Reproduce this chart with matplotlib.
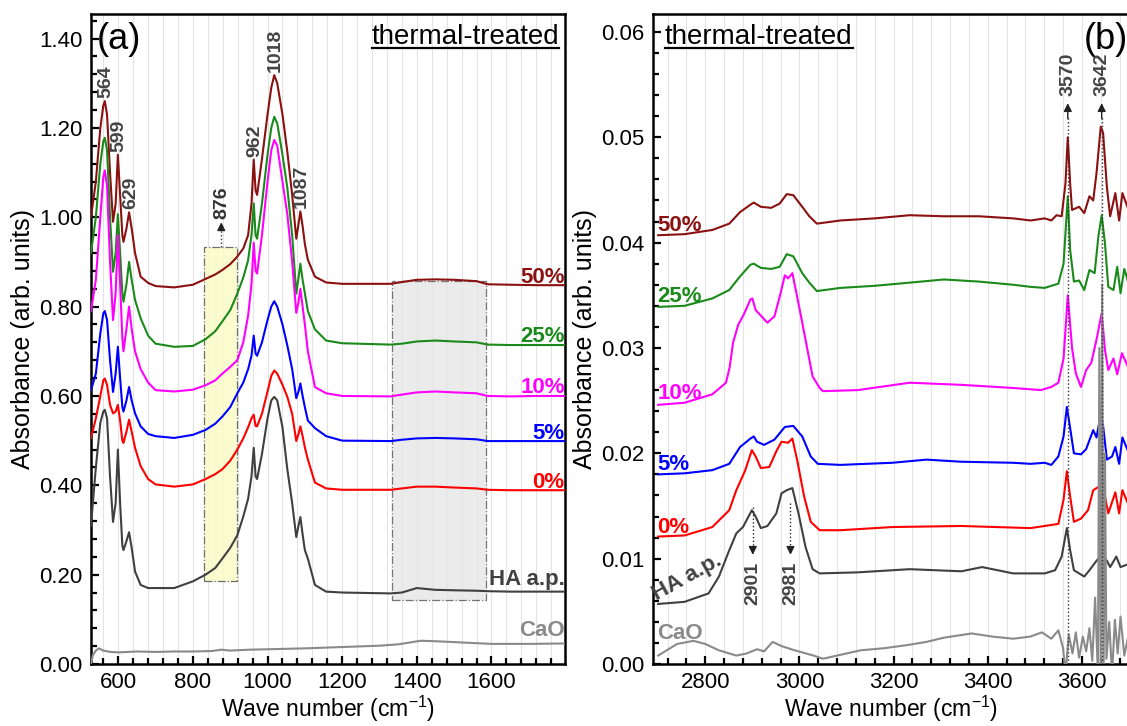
import matplotlib
matplotlib.use("Agg")
import matplotlib.pyplot as plt
from matplotlib.ticker import MultipleLocator, FormatStrFormatter
from matplotlib.patches import Rectangle
from matplotlib.lines import Line2D

plt.rcParams["font.family"] = ["Liberation Sans", "DejaVu Sans"]
plt.rcParams["mathtext.fontset"] = "custom"
plt.rcParams["mathtext.rm"] = "Liberation Sans"

# ---------------- panel (a): 525-1800 cm-1 ----------------
wn_a = [527, 540, 552, 560, 564, 570, 578, 586, 593, 599, 605, 611, 614, 622, 629, 636, 645, 660,
        680, 700, 750, 800, 834, 860, 879, 900, 919, 935, 948, 957, 963, 968, 972, 985, 1000,
        1010, 1018, 1026, 1040, 1053, 1066, 1077, 1083, 1088, 1094, 1100, 1108, 1127, 1157,
        1200, 1330, 1360, 1400, 1450, 1500, 1560, 1590, 1650, 1720, 1800]

a_50 = [1.00, 1.08, 1.20, 1.25, 1.26, 1.23, 1.10, 0.99, 1.03, 1.14, 1.05, 0.96, 0.945, 0.975, 1.011,
        0.975, 0.92, 0.867, 0.853, 0.846, 0.843, 0.849, 0.862, 0.872, 0.882, 0.895, 0.912, 0.93,
        0.96, 1.03, 1.129, 1.06, 1.05, 1.13, 1.23, 1.29, 1.318, 1.30, 1.23, 1.147, 1.05, 0.952,
        0.985, 1.013, 0.98, 0.94, 0.905, 0.867, 0.854, 0.851, 0.851, 0.855, 0.860, 0.861, 0.860,
        0.857, 0.850, 0.849, 0.848, 0.848]
a_25 = [0.92, 1.00, 1.12, 1.17, 1.178, 1.15, 1.00, 0.878, 0.92, 1.007, 0.92, 0.83, 0.811, 0.85, 0.90,
        0.86, 0.815, 0.774, 0.735, 0.717, 0.710, 0.712, 0.727, 0.745, 0.767, 0.792, 0.829, 0.865,
        0.904, 0.96, 1.031, 0.96, 0.952, 1.03, 1.14, 1.20, 1.225, 1.21, 1.14, 1.066, 0.96, 0.829,
        0.865, 0.896, 0.86, 0.83, 0.79, 0.749, 0.724, 0.718, 0.715, 0.717, 0.722, 0.724, 0.722,
        0.720, 0.715, 0.714, 0.714, 0.714]
a_10 = [0.79, 0.86, 1.00, 1.09, 1.105, 1.07, 0.90, 0.77, 0.83, 0.96, 0.85, 0.73, 0.70, 0.75, 0.80,
        0.75, 0.70, 0.66, 0.63, 0.613, 0.61, 0.614, 0.624, 0.635, 0.65, 0.665, 0.68, 0.72, 0.78,
        0.85, 0.943, 0.88, 0.874, 0.96, 1.08, 1.15, 1.173, 1.16, 1.08, 1.007, 0.90, 0.786, 0.81,
        0.84, 0.80, 0.76, 0.70, 0.62, 0.606, 0.60, 0.599, 0.603, 0.608, 0.61, 0.608, 0.606, 0.60,
        0.599, 0.600, 0.600]
a_5 = [0.613, 0.65, 0.74, 0.785, 0.79, 0.77, 0.68, 0.609, 0.65, 0.71, 0.64, 0.575, 0.565, 0.59,
       0.62, 0.59, 0.561, 0.532, 0.515, 0.51, 0.506, 0.513, 0.524, 0.538, 0.554, 0.575, 0.606, 0.63,
       0.66, 0.69, 0.735, 0.695, 0.69, 0.72, 0.77, 0.80, 0.812, 0.80, 0.76, 0.713, 0.66, 0.595,
       0.61, 0.628, 0.60, 0.575, 0.545, 0.528, 0.51, 0.50, 0.499, 0.502, 0.505, 0.506, 0.505,
       0.503, 0.499, 0.499, 0.499, 0.499]
a_0 = [0.506, 0.55, 0.60, 0.635, 0.639, 0.625, 0.58, 0.561, 0.565, 0.58, 0.545, 0.50, 0.495, 0.52,
       0.547, 0.52, 0.484, 0.443, 0.414, 0.402, 0.397, 0.402, 0.414, 0.425, 0.436, 0.455, 0.48,
       0.505, 0.53, 0.55, 0.558, 0.533, 0.532, 0.56, 0.61, 0.645, 0.657, 0.65, 0.625, 0.598, 0.56,
       0.499, 0.515, 0.532, 0.51, 0.485, 0.458, 0.406, 0.393, 0.39, 0.39, 0.393, 0.397, 0.397,
       0.395, 0.393, 0.390, 0.389, 0.389, 0.389]
a_ha = [0.31, 0.44, 0.54, 0.565, 0.569, 0.55, 0.42, 0.318, 0.36, 0.48, 0.36, 0.265, 0.255, 0.275,
        0.295, 0.26, 0.207, 0.177, 0.17, 0.17, 0.17, 0.185, 0.20, 0.215, 0.236, 0.26, 0.288, 0.33,
        0.37, 0.42, 0.484, 0.42, 0.414, 0.47, 0.55, 0.59, 0.598, 0.59, 0.53, 0.436, 0.36, 0.284,
        0.31, 0.329, 0.29, 0.255, 0.236, 0.177, 0.162, 0.160, 0.158, 0.160, 0.170, 0.166, 0.165,
        0.164, 0.163, 0.162, 0.162, 0.162]

wn_a_cao = [527, 532, 540, 548, 560, 580, 600, 650, 700, 750, 800, 850, 876, 900, 950, 1000, 1100,
            1200, 1300, 1350, 1380, 1410, 1450, 1500, 1550, 1600, 1700, 1800]
a_cao = [0.0, 0.02, 0.03, 0.035, 0.03, 0.027, 0.026, 0.028, 0.027, 0.028, 0.028, 0.029, 0.032,
         0.03, 0.032, 0.033, 0.035, 0.038, 0.041, 0.044, 0.048, 0.052, 0.051, 0.049, 0.047, 0.045,
         0.045, 0.046]

peaks_a = [564, 599, 629, 962, 1018, 1087]
peak_tops_a = [1.268, 1.146, 1.018, 1.136, 1.326, 1.020]

# ---------------- panel (b): 2700-3700 cm-1 ----------------
wn_b50 = [2700, 2756, 2815, 2851, 2874, 2896, 2903, 2918, 2940, 2958, 2973, 2987, 3006, 3021, 3037,
          3087, 3160, 3234, 3307, 3381, 3454, 3491, 3521, 3535, 3546, 3557, 3565, 3570, 3575, 3579,
          3594, 3605, 3616, 3624, 3631, 3640, 3645, 3653, 3660, 3671, 3679, 3686, 3700]
b_50 = [0.0407, 0.0408, 0.0412, 0.0418, 0.0429, 0.0436, 0.0438, 0.0434, 0.0433, 0.0437, 0.0446,
        0.0445, 0.0434, 0.0425, 0.0418, 0.0421, 0.0423, 0.0426, 0.0425, 0.0425, 0.0423, 0.0421,
        0.0423, 0.0421, 0.0426, 0.0425, 0.0456, 0.0500, 0.0456, 0.0431, 0.0434, 0.0428, 0.0444,
        0.0440, 0.0466, 0.0510, 0.0504, 0.0453, 0.0425, 0.0447, 0.0421, 0.0447, 0.0430]

wn_b25 = [2700, 2756, 2815, 2851, 2874, 2896, 2903, 2918, 2940, 2958, 2973, 2987, 3006, 3021, 3037,
          3087, 3160, 3234, 3307, 3381, 3454, 3491, 3521, 3535, 3550, 3561, 3570, 3575, 3583, 3594,
          3605, 3616, 3627, 3635, 3642, 3649, 3656, 3667, 3675, 3682, 3690, 3700]
b_25 = [0.0339, 0.0340, 0.0347, 0.0355, 0.0368, 0.0379, 0.0380, 0.0376, 0.0375, 0.0377, 0.0389,
        0.0387, 0.0371, 0.0362, 0.0354, 0.0357, 0.0359, 0.0362, 0.0365, 0.0363, 0.0360, 0.0358,
        0.0357, 0.0359, 0.0361, 0.0380, 0.0444, 0.0393, 0.0363, 0.0364, 0.0355, 0.0374, 0.0371,
        0.0406, 0.0426, 0.0399, 0.0358, 0.0355, 0.0377, 0.0352, 0.0375, 0.0360]

wn_b10 = [2700, 2756, 2815, 2844, 2852, 2859, 2870, 2881, 2896, 2900, 2907, 2932, 2947, 2960, 2969,
          2976, 2985, 2995, 3006, 3018, 3028, 3043, 3050, 3124, 3234, 3344, 3454, 3513, 3535, 3550,
          3561, 3570, 3579, 3587, 3598, 3609, 3620, 3631, 3642, 3649, 3656, 3667, 3675, 3685, 3700]
b_10 = [0.0246, 0.0248, 0.0256, 0.0267, 0.0282, 0.0305, 0.0322, 0.0331, 0.0346, 0.0347, 0.0336,
        0.0324, 0.0330, 0.0352, 0.0369, 0.0366, 0.0371, 0.0349, 0.0324, 0.0296, 0.0273, 0.0262,
        0.0259, 0.0260, 0.0267, 0.0265, 0.0262, 0.0260, 0.0263, 0.0267, 0.0290, 0.0350, 0.0300,
        0.0276, 0.0263, 0.0279, 0.0286, 0.0308, 0.0333, 0.0298, 0.0279, 0.0290, 0.0275, 0.0295,
        0.0280]

wn_b5 = [2700, 2756, 2815, 2851, 2874, 2896, 2903, 2910, 2925, 2947, 2969, 2987, 3006, 3024, 3039,
         3087, 3197, 3270, 3344, 3454, 3491, 3521, 3535, 3550, 3561, 3568, 3575, 3583, 3598, 3609,
         3624, 3631, 3640, 3645, 3653, 3664, 3671, 3679, 3686, 3700]
b_5 = [0.0180, 0.0181, 0.0184, 0.0190, 0.0206, 0.0214, 0.0216, 0.0211, 0.0208, 0.0213, 0.0225,
       0.0226, 0.0216, 0.0197, 0.0190, 0.0189, 0.0191, 0.0194, 0.0192, 0.0191, 0.0190, 0.0191,
       0.0189, 0.0197, 0.0216, 0.0244, 0.0224, 0.0200, 0.0199, 0.0204, 0.0222, 0.0215, 0.0237,
       0.0226, 0.0194, 0.0197, 0.0206, 0.0190, 0.0215, 0.0200]

wn_b0 = [2700, 2756, 2815, 2851, 2866, 2885, 2899, 2907, 2918, 2936, 2951, 2962, 2976, 2985, 2995,
         3010, 3024, 3043, 3087, 3197, 3344, 3491, 3550, 3561, 3568, 3575, 3583, 3598, 3613, 3624,
         3635, 3642, 3649, 3656, 3671, 3679, 3686, 3700]
b_0 = [0.0121, 0.0122, 0.0130, 0.0146, 0.0165, 0.0184, 0.0203, 0.0197, 0.0186, 0.0187, 0.0202,
       0.0211, 0.0210, 0.0214, 0.0194, 0.0159, 0.0135, 0.0127, 0.0127, 0.0130, 0.0131, 0.0129,
       0.0133, 0.0156, 0.0183, 0.0159, 0.0135, 0.0138, 0.0146, 0.0165, 0.0168, 0.0170, 0.0159,
       0.0143, 0.0163, 0.0143, 0.0165, 0.0150]

wn_bha = [2700, 2756, 2807, 2829, 2851, 2866, 2880, 2899, 2907, 2918, 2932, 2951, 2962, 2973, 2985,
          2998, 3013, 3028, 3043, 3124, 3234, 3344, 3388, 3454, 3521, 3543, 3557, 3568, 3575, 3583,
          3594, 3605, 3616, 3631, 3642, 3653, 3660, 3673, 3682, 3700]
b_ha = [0.0057, 0.0059, 0.0067, 0.0083, 0.0108, 0.0124, 0.0130, 0.0146, 0.0140, 0.0129, 0.0131,
        0.0143, 0.0162, 0.0165, 0.0167, 0.0143, 0.0111, 0.0090, 0.0086, 0.0087, 0.0090, 0.0088,
        0.0092, 0.0086, 0.0086, 0.0089, 0.0102, 0.0129, 0.0108, 0.0089, 0.0086, 0.0083, 0.0089,
        0.0098, 0.0103, 0.0098, 0.0092, 0.0102, 0.0092, 0.0095]

wn_bcao = [2700, 2740, 2775, 2800, 2829, 2866, 2888, 2910, 2925, 2943, 2962, 2990, 3030, 3050, 3080,
           3130, 3180, 3230, 3270, 3307, 3366, 3410, 3454, 3490, 3515, 3535, 3550, 3560, 3565, 3572,
           3580, 3587, 3594, 3602, 3609, 3616, 3622, 3628, 3634, 3637, 3640, 3643, 3646, 3649, 3652,
           3658, 3664, 3670, 3676, 3682, 3690, 3700]
b_cao = [0.0008, 0.0019, 0.0022, 0.0019, 0.0013, 0.0008, 0.0010, 0.0014, 0.0012, 0.0021, 0.0017,
         0.0013, 0.0008, 0.0005, 0.0008, 0.0013, 0.0015, 0.0018, 0.0021, 0.0025, 0.0029, 0.0026,
         0.0024, 0.0026, 0.0030, 0.0024, 0.0032, 0.0015, -0.0010, 0.0028, 0.0010, 0.0030, 0.0006,
         0.0026, 0.0012, 0.0034, 0.0003, 0.0063, -0.0010, 0.0300, -0.0010, 0.0360, -0.0010,
         0.0200, 0.0005, 0.0040, -0.0010, 0.0042, 0.0010, 0.0045, 0.0008, 0.0030]

peaks_b_up = [3570, 3642]
peaks_b_down = [2901, 2981]
peaks_b_down_from = [0.0149, 0.0153]

labels = ["50%", "25%", "10%", "5%", "0%", "HA a.p.", "CaO"]
colors = ["#8b1010", "#1a8a1a", "#ff00ff", "#0000ff", "#ff0000", "#404040", "#8a8a8a"]
label_y_a = [0.853, 0.720, 0.606, 0.503, 0.395, 0.177, 0.062]
label_y_b = [0.0411, 0.0344, 0.0252, 0.0184, 0.0124]

ann_color = "#444444"

fig = plt.figure(figsize=(11.27, 7.26), dpi=100)
ax1 = fig.add_axes([91 / 1127, 62 / 726, 474 / 1127, 650 / 726])
ax2 = fig.add_axes([653 / 1127, 62 / 726, 476 / 1127, 650 / 726])


def style_axis(ax, xmaj, xmin, ymaj, ymin, yfmt):
    ax.xaxis.set_major_locator(MultipleLocator(xmaj))
    ax.xaxis.set_minor_locator(MultipleLocator(xmin))
    ax.yaxis.set_major_locator(MultipleLocator(ymaj))
    ax.yaxis.set_minor_locator(MultipleLocator(ymin))
    ax.yaxis.set_major_formatter(FormatStrFormatter(yfmt))
    ax.tick_params(which="both", direction="in", top=False, right=False,
                   labelsize=16, width=1.6, colors="black")
    ax.tick_params(which="major", length=5.5, pad=6)
    ax.tick_params(which="minor", length=4)
    for s in ax.spines.values():
        s.set_linewidth(1.8)
    ax.grid(True, which="both", axis="x", color="#e4e4e4", lw=0.8, zorder=0)
    ax.set_axisbelow(True)
    ax.set_xlabel("Wave number (cm$^{\\mathregular{-1}}$)", fontsize=16.5, labelpad=0.5)
    ax.set_ylabel("Absorbance (arb. units)", fontsize=18)
    ax.yaxis.set_label_coords(-0.118, 0.5)


# ---------- panel (a) ----------
style_axis(ax1, 200, 40, 0.2, 0.04, "%.2f")
ax1.set_xlim(527, 1797)
ax1.set_ylim(0, 1.455)

ax1.add_patch(Rectangle((831, 0.185), 86, 0.934 - 0.185, facecolor="#fbfbc8", alpha=0.85,
                        edgecolor="#555555", lw=0.9, ls="-.", zorder=1))
ax1.add_patch(Rectangle((1333, 0.143), 253, 0.857 - 0.143, facecolor="#e6e6e6", alpha=0.8,
                        edgecolor="#555555", lw=0.9, ls="-.", zorder=1))

series_a = [a_50, a_25, a_10, a_5, a_0, a_ha]
for ys, c in zip(series_a, colors[:6]):
    ax1.plot(wn_a, ys, color=c, lw=1.5, zorder=3)
ax1.plot(wn_a_cao, a_cao, color=colors[6], lw=1.5, zorder=3)

for lab, c, y in zip(labels, colors, label_y_a):
    ax1.text(1796, y, lab, color=c, fontsize=16, fontweight="bold", ha="right",
             va="baseline", zorder=4)

for p, top in zip(peaks_a, peak_tops_a):
    ax1.text(p + 4, top, str(p), rotation=90, ha="center", va="bottom", fontsize=14,
             fontweight="bold", color=ann_color, zorder=4)

# 876 marker above the yellow box
ax1.plot([876, 876], [0.934, 0.975], ls=":", color="#333333", lw=1, zorder=4)
ax1.annotate("", xy=(876, 0.995), xytext=(876, 0.972),
             arrowprops=dict(arrowstyle="-|>", color="#222222", lw=1, mutation_scale=12), zorder=4)
ax1.text(878, 0.997, "876", rotation=90, ha="center", va="bottom", fontsize=14,
         fontweight="bold", color="#333333", zorder=4)

ax1.text(0.012, 0.988, "(a)", transform=ax1.transAxes, fontsize=26, ha="left", va="top")
tt1 = ax1.text(0.988, 0.985, "thermal-treated", transform=ax1.transAxes, fontsize=20,
               ha="right", va="top")

# ---------- panel (b) ----------
style_axis(ax2, 200, 40, 0.01, 0.002, "%.2f")
ax2.set_xlim(2689, 3700)
ax2.set_ylim(0, 0.0617)

series_b = [(wn_b50, b_50), (wn_b25, b_25), (wn_b10, b_10), (wn_b5, b_5), (wn_b0, b_0),
            (wn_bha, b_ha)]
for (xs, ys), c in zip(series_b, colors[:6]):
    ax2.plot(xs, ys, color=c, lw=1.5, zorder=3)
ax2.plot(wn_bcao, b_cao, color=colors[6], lw=1.5, zorder=3)

for lab, c, y in zip(labels[:5], colors[:5], label_y_b):
    ax2.text(2698, y, lab, color=c, fontsize=16, fontweight="bold", ha="left",
             va="baseline", zorder=4)
ax2.text(2697, 0.0060, "HA a.p.", color=colors[5], fontsize=16, fontweight="bold",
         rotation=29, rotation_mode="anchor", ha="left", va="baseline", zorder=4)
ax2.text(2698, 0.0024, "CaO", color=colors[6], fontsize=16, fontweight="bold",
         ha="left", va="baseline", zorder=4)

for p in peaks_b_up:
    ax2.plot([p, p], [0, 0.0520], ls=":", color="#333333", lw=1, zorder=4)
    ax2.annotate("", xy=(p, 0.0535), xytext=(p, 0.0515),
                 arrowprops=dict(arrowstyle="-|>", color="#222222", lw=1, mutation_scale=12),
                 zorder=4)
    ax2.text(p + 1, 0.0539, str(p), rotation=90, ha="center", va="bottom", fontsize=14,
             fontweight="bold", color=ann_color, zorder=4)

for p, y0 in zip(peaks_b_down, peaks_b_down_from):
    ax2.plot([p, p], [y0, 0.0108], ls=":", color="#222222", lw=1, zorder=4)
    ax2.annotate("", xy=(p, 0.0101), xytext=(p, 0.0112),
                 arrowprops=dict(arrowstyle="-|>", color="#222222", lw=1, mutation_scale=12),
                 zorder=4)
    ax2.text(p + 1, 0.0097, str(p), rotation=90, ha="center", va="top", fontsize=14,
             fontweight="bold", color=ann_color, zorder=4)

tt2 = ax2.text(0.025, 0.985, "thermal-treated", transform=ax2.transAxes, fontsize=20,
               ha="left", va="top")
ax2.text(0.905, 0.988, "(b)", transform=ax2.transAxes, fontsize=26, ha="left", va="top")

# underline the "thermal-treated" captions
fig.canvas.draw()
renderer = fig.canvas.get_renderer()
inv = fig.transFigure.inverted()
for t in (tt1, tt2):
    bb = t.get_window_extent(renderer)
    (x0, y0), (x1, _) = inv.transform([(bb.x0, bb.y0 + 2), (bb.x1, bb.y1)])
    fig.add_artist(Line2D([x0, x1], [y0, y0], transform=fig.transFigure,
                          color="black", lw=1.6))

fig.savefig("out.png", dpi=100)
